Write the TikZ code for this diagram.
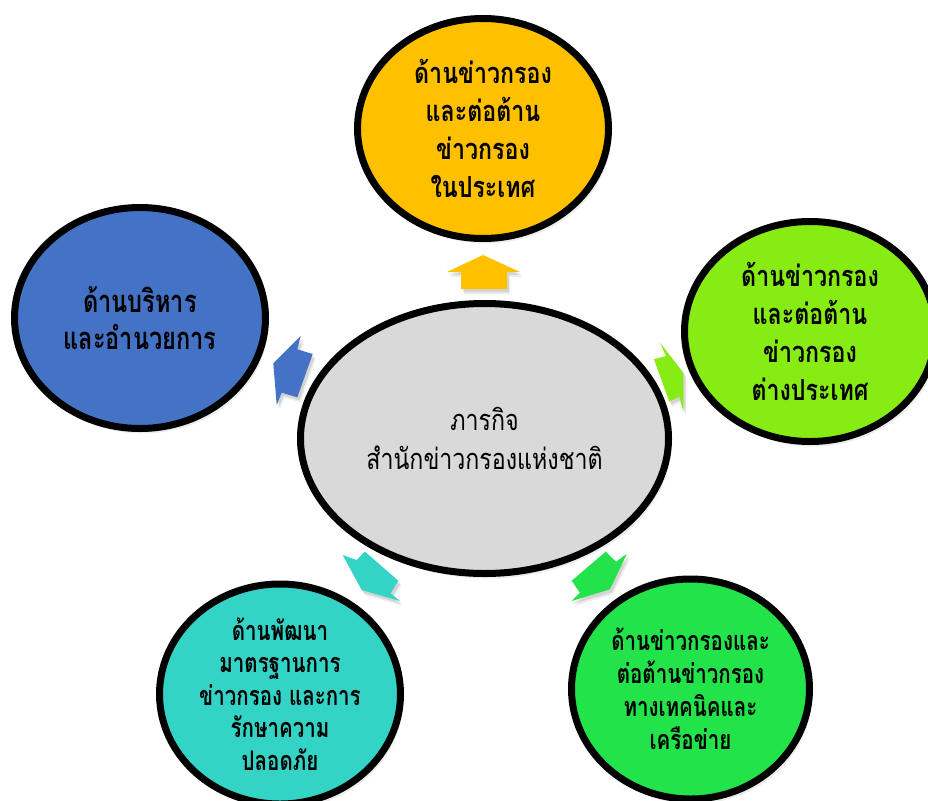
\documentclass[tikz,border=0pt]{standalone}
\usepackage{fontspec}
\newfontfamily\thai[Script=Thai,FakeStretch=0.8]{Loma}
\newfontfamily\thain[Script=Thai,FakeStretch=0.76]{Loma}
\usetikzlibrary{shapes.geometric,shadows}
\definecolor{cyel}{HTML}{FFC000}
\definecolor{cblue}{HTML}{4472C4}
\definecolor{clime}{HTML}{86EC14}
\definecolor{cgray}{HTML}{D9D9D9}
\definecolor{cteal}{HTML}{33D3C6}
\definecolor{cgreen}{HTML}{23E34B}
\begin{document}
\begin{tikzpicture}[x=1pt,y=-1pt,
  softshadow/.style={
    drop shadow={shadow xshift=2pt,shadow yshift=-3pt,opacity=0.10,fill=black},
    drop shadow={shadow xshift=3pt,shadow yshift=-5pt,opacity=0.07,fill=black}},
  bubble/.style={ellipse, draw=black, line width=7pt, align=center, inner sep=0pt,
    softshadow, font=\thai\bfseries\fontsize{29}{38}\selectfont},
  blockarrow/.style={draw=none, softshadow}]
\useasboundingbox (0,0) rectangle (928,800);
\fill[white] (0,0) rectangle (928,800);

% arrows
\fill[cyel, blockarrow] (483,255) -- (520,272) -- (507,272) -- (507,289) -- (461,289) -- (461,272) -- (447,272) -- cycle;
\fill[cblue, blockarrow] (300.7,336) -- (297.3,349.3) -- (312.7,354) -- (297.3,397.3) -- (281.7,392.7) -- (276.7,405) -- (273.3,363.3) -- cycle;
\fill[clime, blockarrow] (660,342.7) -- (666,356) -- (654,359.3) -- (669.3,401.7) -- (679.3,396.7) -- (683.3,411.7) -- (683.3,372.7) -- cycle;
\fill[cteal, blockarrow] (342.7,555) -- (356.7,560) -- (365,551.7) -- (398.3,580.7) -- (390.7,593.3) -- (400,601) -- (361.7,590) -- cycle;
\fill[cgreen, blockarrow] (605.7,551.7) -- (616,561.7) -- (626.7,554) -- (610,589.3) -- (571.7,601) -- (580,592.7) -- (571.7,580.7) -- cycle;

% ellipses
\node[bubble, fill=cyel, minimum width=251pt, minimum height=220pt] (top) at (483,128.5)
  {ด้านข่าวกรอง\\และต่อต้าน\\ข่าวกรอง\\ในประเทศ};
\node[bubble, fill=cblue, minimum width=251pt, minimum height=221pt,
  font=\thain\bfseries\fontsize{31}{37}\selectfont] (admin) at (140,318)
  {ด้านบริหาร\\และอำนวยการ};
\node[bubble, fill=clime, minimum width=251pt, minimum height=220pt] (foreign) at (810,331.5)
  {ด้านข่าวกรอง\\และต่อต้าน\\ข่าวกรอง\\ต่างประเทศ};
\node[bubble, fill=cgray, minimum width=368pt, minimum height=270pt,
  font=\thai\fontsize{29}{39}\selectfont] (center) at (484.5,438.5)
  {ภารกิจ\\สำนักข่าวกรองแห่งชาติ};
\node[bubble, fill=cteal, minimum width=241pt, minimum height=220pt,
  font=\thain\bfseries\fontsize{27}{32.5}\selectfont] (std) at (280,694)
  {ด้านพัฒนา\\มาตรฐานการ\\ข่าวกรอง และการ\\รักษาความ\\ปลอดภัย};
\node[bubble, fill=cgreen, minimum width=238pt, minimum height=220pt,
  font=\thain\bfseries\fontsize{27}{33}\selectfont] (tech) at (690.5,689)
  {ด้านข่าวกรองและ\\ต่อต้านข่าวกรอง\\ทางเทคนิคและ\\เครือข่าย};
\end{tikzpicture}
\end{document}
